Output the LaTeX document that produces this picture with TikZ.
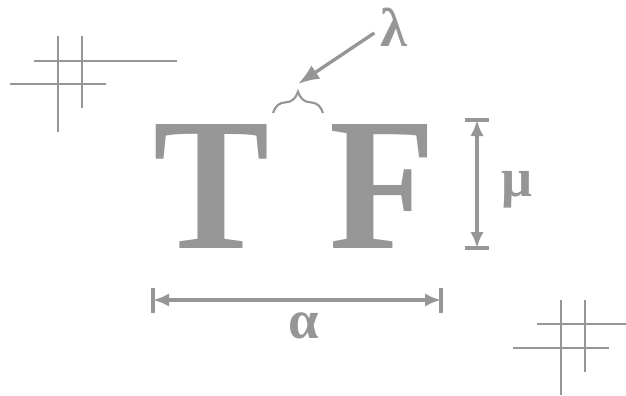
\documentclass[tikz,border=0pt]{standalone}
\usepackage{fontspec}
\setmainfont{Liberation Serif}
\usetikzlibrary{arrows.meta,decorations.pathreplacing}
\definecolor{CinzaL}{RGB}{150,150,150}

\begin{document}
\begin{tikzpicture}[x=.75pt,y=-.75pt,every node/.style={text=CinzaL,inner sep=0pt},
  grade/.style={CinzaL,line width=2pt},
  cota/.style={CinzaL,line width=2.5pt,{Latex[length=12pt,width=10pt]}-{Latex[length=12pt,width=10pt]}},
  trava/.style={CinzaL,line width=3pt},
  letra/.style={font=\fontsize{142}{142}\selectfont\bfseries,anchor=base,xscale=.92},
  grega/.style={font=\fontsize{41}{41}\selectfont\bfseries}]
\useasboundingbox(0,0)rectangle(626,396);
% grades
\draw[grade](58,36)--(58,132);\draw[grade](82,36)--(82,108);
\draw[grade](34,61)--(177,61);\draw[grade](10,84)--(106,84);
\draw[grade](561,300)--(561,395);\draw[grade](585,300)--(585,372);
\draw[grade](537,324)--(626,324);\draw[grade](513,348)--(609,348);
% letras
\node[letra](T)at(212,248){T};
\node[letra](F)at(383,248){F};
% lambda
\draw[CinzaL,line width=1.6pt,decorate,decoration={brace,amplitude=16pt}](273,113)--(323,113);
\coordinate(chave)at(298,84);
\node[grega](lam)at(394,27){λ};
\draw[CinzaL,line width=2.5pt,-{Latex[length=16pt,width=12pt]}]([shift={(-6,6)}]lam.west)--(chave);
% mu
\coordinate(muA)at(477,120);\coordinate(muB)at(477,248);
\draw[trava](465,120)--(489,120);\draw[trava](465,248)--(489,248);
\draw[cota](muA)--(muB);
\node[grega](mu)at(517,190){μ};
% alfa
\coordinate(alA)at(153,300);\coordinate(alB)at(441,300);
\draw[trava](153,288)--(153,313);\draw[trava](441,288)--(441,313);
\draw[cota](alA)--(alB);
\node[grega](alf)at(304,326){α};
\end{tikzpicture}
\end{document}
